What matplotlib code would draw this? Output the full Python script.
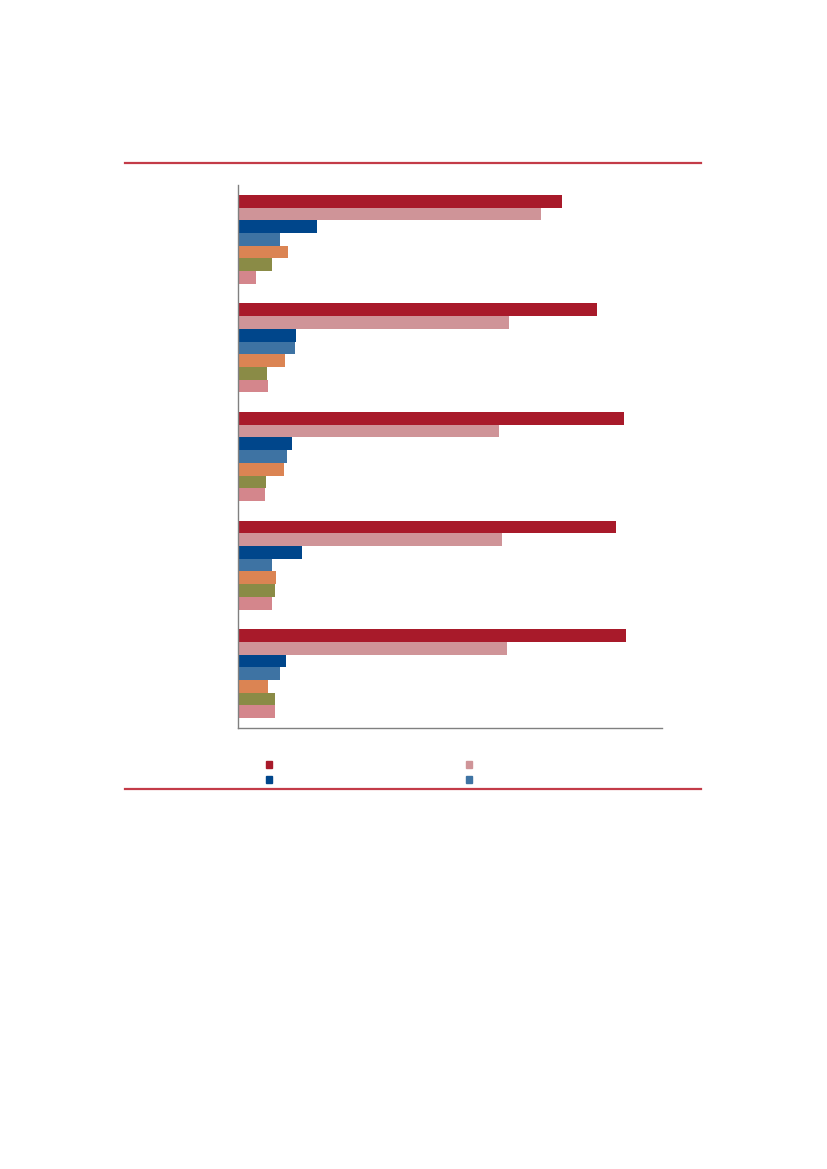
import numpy as np
import matplotlib.pyplot as plt
from matplotlib.patches import Patch
from matplotlib.lines import Line2D

# five groups, seven series each (in axis pixels)
groups = ["G1", "G2", "G3", "G4", "G5"]
s1 = [324, 359, 386, 378, 388]
s2 = [303, 271, 261, 264, 269]
s3 = [79, 58, 54, 64, 48]
s4 = [42, 57, 49, 34, 42]
s5 = [50, 47, 46, 38, 30]
s6 = [34, 29, 28, 37, 37]
s7 = [18, 30, 27, 34, 37]
series = [s1, s2, s3, s4, s5, s6, s7]
colors = ["#A81A2A", "#CF9498", "#00468B", "#3E73A3", "#DB8453", "#8A8B46", "#D4868C"]

fig = plt.figure(figsize=(8.27, 11.69), dpi=100)
ax = fig.add_axes([238/827, 1-728/1169, 424/827, 543/1169])

h = 0.117
y = np.arange(len(groups)) + 0.5
for j in range(len(series)):
    ax.barh(y + (j - 3) * h, series[j], height=h, color=colors[j], linewidth=0)

ax.set_xlim(0, 424)
ax.set_ylim(len(groups), 0)
ax.set_xticks([])
ax.set_yticks([])
for s in ["top", "right"]:
    ax.spines[s].set_visible(False)
for s in ["left", "bottom"]:
    ax.spines[s].set_color("#808080")
    ax.spines[s].set_linewidth(1.0)

# red rules above and below
for yy in [163, 789]:
    fig.add_artist(Line2D([125/827, 701/827], [1-yy/1169, 1-yy/1169],
                          color="#C33B48", linewidth=1.6))

handles = [Patch(color=colors[0]), Patch(color=colors[2]),
           Patch(color=colors[1]), Patch(color=colors[3])]
fig.legend(handles, ["", "", "", ""], ncol=2, frameon=False, fontsize=8,
           loc="upper left", bbox_to_anchor=(265.5/827, 1-760/1169),
           handlelength=0.6, handleheight=0.6, handletextpad=0.0,
           columnspacing=17.4, labelspacing=0.5, borderpad=0, borderaxespad=0)

fig.savefig("out.png", dpi=100)
